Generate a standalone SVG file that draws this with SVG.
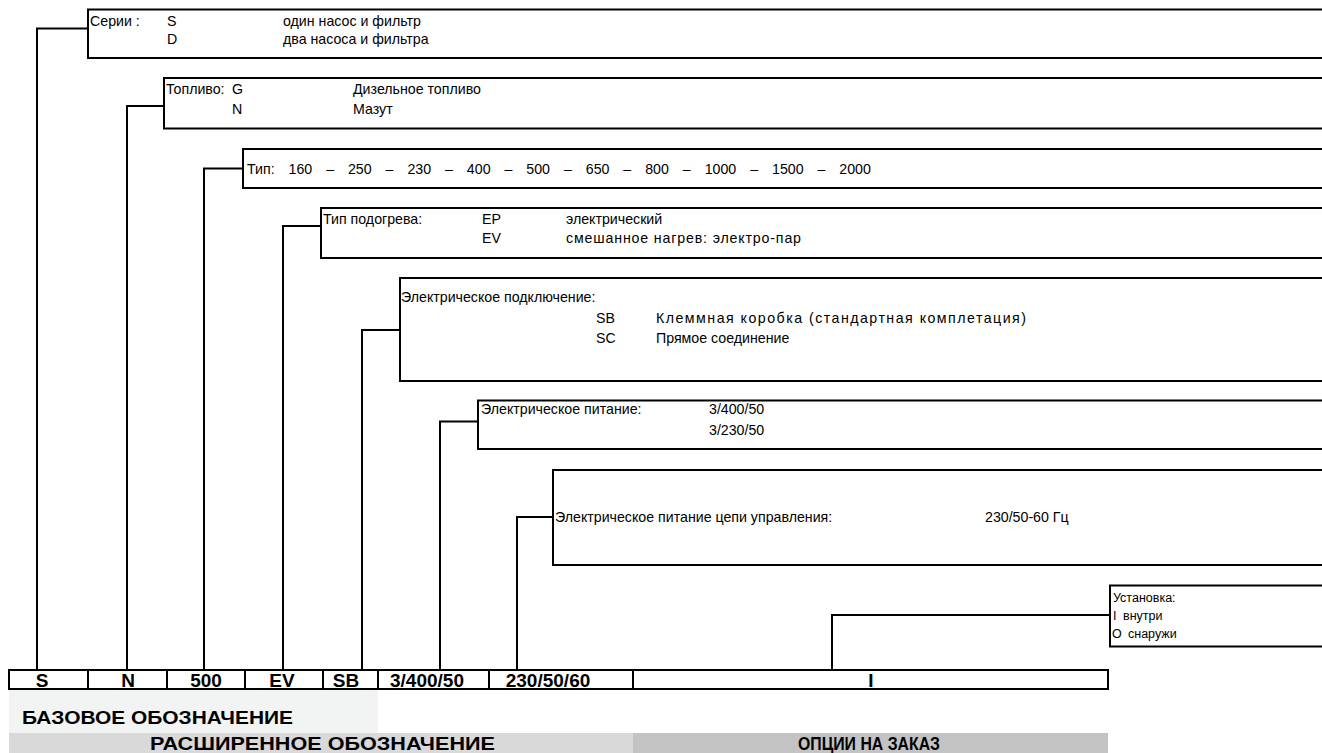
<svg xmlns="http://www.w3.org/2000/svg" width="1322" height="753" viewBox="0 0 1322 753">
<style>
  .bx{fill:#fff;stroke:#000;stroke-width:2}
  .ln{fill:none;stroke:#000;stroke-width:2}
  .t{font-family:"Liberation Sans",Arial,sans-serif;font-size:14.2px;fill:#000}
  .ts{font-family:"Liberation Sans",Arial,sans-serif;font-size:12.5px;fill:#000}
  .tb{font-family:"Liberation Sans",Arial,sans-serif;font-size:19px;font-weight:bold;fill:#000}
  .tl{font-family:"Liberation Sans",Arial,sans-serif;font-size:18px;font-weight:bold;fill:#000}
</style>
<rect width="1322" height="753" fill="#fff"/>
<g id="connectors">
  <polyline class="ln" points="88,28.5 37,28.5 37,670"/>
  <polyline class="ln" points="164,106 127,106 127,670"/>
  <polyline class="ln" points="243,168.5 204,168.5 204,670"/>
  <polyline class="ln" points="321,226 283,226 283,670"/>
  <polyline class="ln" points="400,330 362,330 362,670"/>
  <polyline class="ln" points="478,421.5 440,421.5 440,670"/>
  <polyline class="ln" points="553,517 517,517 517,670"/>
  <polyline class="ln" points="1110,615 832,615 832,670"/>
</g>
<g id="series">
  <rect class="bx" x="88" y="9.5" width="1250" height="48.5"/>
  <text class="t" x="90" y="25.5">Серии :</text>
  <text class="t" x="167" y="25.5">S</text>
  <text class="t" x="283" y="25.5">один насос и фильтр</text>
  <text class="t" x="167" y="44">D</text>
  <text class="t" x="283" y="44">два насоса и фильтра</text>
</g>
<g id="fuel">
  <rect class="bx" x="164" y="78" width="1170" height="50.5"/>
  <text class="t" x="166" y="94">Топливо:</text>
  <text class="t" x="232" y="94">G</text>
  <text class="t" x="353" y="94">Дизельное топливо</text>
  <text class="t" x="232" y="113.5">N</text>
  <text class="t" x="353" y="113.5">Мазут</text>
</g>
<g id="type">
  <rect class="bx" x="243" y="149" width="1090" height="39"/>
  <text class="t" x="247" y="173.5" word-spacing="10">Тип: 160 – 250 – 230 – 400 – 500 – 650 – 800 – 1000 – 1500 – 2000</text>
</g>
<g id="heating">
  <rect class="bx" x="321" y="208" width="1010" height="50"/>
  <text class="t" x="323" y="223.5">Тип подогрева:</text>
  <text class="t" x="482" y="223.5">EP</text>
  <text class="t" x="566" y="223.5">электрический</text>
  <text class="t" x="482" y="243">EV</text>
  <text class="t" x="566" y="243" textLength="235" lengthAdjust="spacing">смешанное нагрев: электро-пар</text>
</g>
<g id="connection">
  <rect class="bx" x="400" y="278" width="930" height="103"/>
  <text class="t" x="401" y="302">Электрическое подключение:</text>
  <text class="t" x="596" y="323">SB</text>
  <text class="t" x="656" y="323" textLength="370" lengthAdjust="spacing">Клеммная коробка (стандартная комплетация)</text>
  <text class="t" x="596" y="343">SC</text>
  <text class="t" x="656" y="343">Прямое соединение</text>
</g>
<g id="power">
  <rect class="bx" x="478" y="400.5" width="850" height="48.5"/>
  <text class="t" x="481" y="413.5">Электрическое питание:</text>
  <text class="t" x="709" y="413.5">3/400/50</text>
  <text class="t" x="709" y="435">3/230/50</text>
</g>
<g id="control">
  <rect class="bx" x="553" y="470" width="780" height="95"/>
  <text class="t" x="555" y="522">Электрическое питание цепи управления:</text>
  <text class="t" x="985" y="522">230/50-60 Гц</text>
</g>
<g id="install">
  <rect class="bx" x="1110" y="585.5" width="230" height="61"/>
  <text class="ts" x="1113" y="601.5">Установка:</text>
  <text class="ts" y="619.5"><tspan x="1113">I</tspan><tspan x="1123">внутри</tspan></text>
  <text class="ts" y="637.5"><tspan x="1112">O</tspan><tspan x="1128">снаружи</tspan></text>
</g>
<g id="code-table">
  <rect class="bx" x="9" y="670" width="1099" height="19"/>
  <path class="ln" d="M88,670V689M167,670V689M245,670V689M323,670V689M378,670V689M489,670V689M633,670V689"/>
  <g class="tb" text-anchor="middle">
    <text x="42" y="686.5">S</text>
    <text x="128" y="686.5">N</text>
    <text x="206" y="686.5">500</text>
    <text x="282" y="686.5">EV</text>
    <text x="346" y="686.5">SB</text>
    <text x="427" y="686.5">3/400/50</text>
    <text x="548" y="686.5">230/50/60</text>
    <text x="871" y="686.5">I</text>
  </g>
</g>
<g id="legend">
  <rect x="9" y="690" width="369" height="43" fill="#f2f4f3"/>
  <rect x="9" y="733" width="624" height="20" fill="#d9d9d9"/>
  <rect x="633" y="733" width="475" height="20" fill="#c3c3c3"/>
  <text class="tb" x="22" y="724" textLength="271" lengthAdjust="spacingAndGlyphs">БАЗОВОЕ ОБОЗНАЧЕНИЕ</text>
  <text class="tl" x="150" y="749.5" textLength="345" lengthAdjust="spacingAndGlyphs">РАСШИРЕННОЕ ОБОЗНАЧЕНИЕ</text>
  <text class="tl" x="798" y="749.5" textLength="142" lengthAdjust="spacingAndGlyphs">ОПЦИИ НА ЗАКАЗ</text>
</g>
</svg>
